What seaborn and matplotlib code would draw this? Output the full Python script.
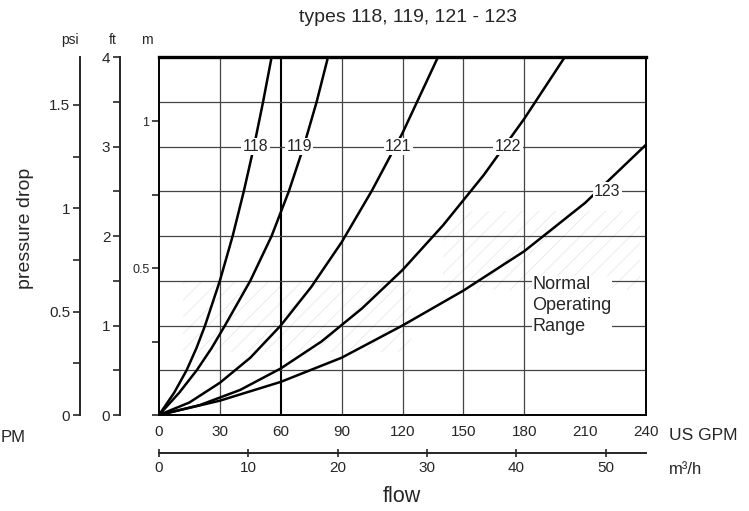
import numpy as np
import pandas as pd
import matplotlib
matplotlib.use("Agg")
import matplotlib.pyplot as plt
from matplotlib.ticker import MultipleLocator, FormatStrFormatter
import seaborn as sns

# values: flow in US GPM, pressure drop in ft of water
types = ["118", "119", "121", "122", "123"]
gpm_118 = [0, 7.5, 13.6, 18.5, 22.7, 30, 36.3, 41.8, 46.8, 51.3, 55.5]
ft_118 = [0, 0.25, 0.5, 0.75, 1.0, 1.5, 2.0, 2.5, 3.0, 3.5, 4.0]
gpm_119 = [0, 10, 18.6, 26, 32.5, 45, 55.5, 64, 71.3, 77.7, 83.3]
ft_119 = [0, 0.25, 0.5, 0.75, 1.0, 1.5, 2.0, 2.5, 3.0, 3.5, 4.0]
gpm_121 = [0, 15, 30, 45, 60, 75, 90, 105, 120, 137.5]
ft_121 = [0, 0.14, 0.36, 0.64, 1.0, 1.43, 1.93, 2.51, 3.15, 4.0]
gpm_122 = [0, 20, 40, 60, 80, 100, 120, 140, 160, 180, 200]
ft_122 = [0, 0.11, 0.28, 0.52, 0.82, 1.19, 1.62, 2.12, 2.68, 3.31, 4.0]
gpm_123 = [0, 30, 60, 90, 120, 150, 180, 210, 240]
ft_123 = [0, 0.16, 0.37, 0.64, 1.0, 1.39, 1.83, 2.37, 3.02]

# where the type numbers sit on the curves
label_gpm = [47.5, 69, 118, 172, 221]
label_ft = [3.0, 3.0, 3.0, 3.0, 2.5]

gpm_ticks = [0, 30, 60, 90, 120, 150, 180, 210, 240]
m3h_ticks = [0, 10, 20, 30, 40, 50]
ft_ticks = [0, 1, 2, 3, 4]
psi_ticks = [0, 0.5, 1, 1.5]
m_ticks = [0.5, 1]

FT_PER_PSI = 2.31
FT_PER_M = 3.281
GPM_PER_M3H = 4.403

sns.set_style("white")
plt.rcParams["font.family"] = ["Liberation Sans", "DejaVu Sans"]
plt.rcParams["hatch.linewidth"] = 0.7

curves = pd.concat([
    pd.DataFrame({"gpm": g, "ft": f, "type": t})
    for g, f, t in zip([gpm_118, gpm_119, gpm_121, gpm_122, gpm_123],
                       [ft_118, ft_119, ft_121, ft_122, ft_123], types)
])

W, H = 749, 511
fig = plt.figure(figsize=(W / 100, H / 100), dpi=100)
ax = fig.add_axes([159 / W, 96 / H, 487 / W, 358 / H])

# faint dotted shading of the normal operating range (barely visible in the scan)
shade = dict(color="none", hatch="//", edgecolor="#ececec", linewidth=0, zorder=0)
ax.fill_between([140, 237], 1.4, 2.28, **shade)
ax.fill_between([12, 124], 0.7, 1.5, **shade)

sns.lineplot(data=curves, x="gpm", y="ft", hue="type", palette=["black"] * 5,
             legend=False, sort=False, linewidth=1.8, ax=ax, zorder=3)

ax.set_xlim(0, 240)
ax.set_ylim(0, 4)
ax.set_xlabel("")
ax.set_ylabel("")
ax.set_xticks(gpm_ticks)
ax.xaxis.set_major_formatter(FormatStrFormatter("%g"))
ax.tick_params(axis="x", direction="inout", length=7, width=1, labelsize=11, pad=4)
ax.set_yticks(np.arange(0, 4.01, 0.5))
ax.tick_params(axis="y", length=0, labelleft=False)
ax.grid(True, color="#454545", linewidth=0.9)
for i, line in enumerate(ax.get_xgridlines()):
    if gpm_ticks[i] in (0, 210, 240):
        line.set_visible(False)
    if gpm_ticks[i] == 60:
        line.set_linewidth(1.5)
        line.set_color("black")

for side in ["left", "right", "bottom"]:
    ax.spines[side].set_linewidth(1.4)
    ax.spines[side].set_color("black")
ax.spines["top"].set_linewidth(2.4)
ax.spines["top"].set_color("black")

# metre scale on the frame itself
sec_m = ax.secondary_yaxis(0, functions=(lambda v: v / FT_PER_M, lambda v: v * FT_PER_M))
sec_m.set_yticks(m_ticks)
sec_m.yaxis.set_minor_locator(MultipleLocator(0.25))
sec_m.yaxis.set_major_formatter(FormatStrFormatter("%g"))
sec_m.tick_params(which="major", length=5, width=1.2, labelsize=9, pad=2)
sec_m.tick_params(which="minor", length=5, width=1.2)
sec_m.spines["left"].set_visible(False)

# feet scale
sec_ft = ax.secondary_yaxis(-39 / 487, functions=(lambda v: v, lambda v: v))
sec_ft.set_yticks(ft_ticks)
sec_ft.yaxis.set_minor_locator(MultipleLocator(0.5))
sec_ft.tick_params(which="major", length=5, width=1.2, labelsize=11, pad=2)
sec_ft.tick_params(which="minor", length=5, width=1.2)
sec_ft.spines["left"].set_linewidth(1.4)

# psi scale
sec_psi = ax.secondary_yaxis(-79 / 487, functions=(lambda v: v / FT_PER_PSI, lambda v: v * FT_PER_PSI))
sec_psi.set_yticks(psi_ticks)
sec_psi.yaxis.set_minor_locator(MultipleLocator(0.25))
sec_psi.yaxis.set_major_formatter(FormatStrFormatter("%g"))
sec_psi.tick_params(which="major", length=5, width=1.2, labelsize=11, pad=2)
sec_psi.tick_params(which="minor", length=5, width=1.2)
sec_psi.spines["left"].set_linewidth(1.4)

# m3/h scale under the GPM scale
sec_q = ax.secondary_xaxis(-38 / 358, functions=(lambda v: v / GPM_PER_M3H, lambda v: v * GPM_PER_M3H))
sec_q.set_xticks(m3h_ticks)
sec_q.tick_params(direction="inout", length=6, width=1.2, labelsize=11, pad=3)
sec_q.spines["bottom"].set_linewidth(1.4)

# type numbers on the curves
for t, x, y in zip(types, label_gpm, label_ft):
    ax.text(x, y, t, ha="center", va="center", fontsize=11.5, zorder=5,
            bbox=dict(fc="white", ec="none", pad=1.0))

ax.text(184, 1.22, "Normal\nOperating\nRange", ha="left", va="center",
        fontsize=13, linespacing=1.3, zorder=5,
        bbox=dict(fc="white", ec="none", pad=0.5))

fig.text(408 / W, 1 - 17 / H, "types 118, 119, 121 - 123", ha="center", va="center", fontsize=14)
fig.text(26 / W, 1 - 228 / H, "pressure drop", rotation=90, ha="center", va="center", fontsize=14)
fig.text(402 / W, 1 - 496 / H, "flow", ha="center", va="center", fontsize=15.5)
fig.text(669 / W, 1 - 435 / H, "US GPM", ha="left", va="center", fontsize=12.5)
fig.text(669 / W, 1 - 470 / H, "m³/h", ha="left", va="center", fontsize=12)
fig.text(1 / W, 1 - 438 / H, "PM", ha="left", va="center", fontsize=12)
fig.text(70 / W, 1 - 40 / H, "psi", ha="center", va="center", fontsize=10)
fig.text(113 / W, 1 - 40 / H, "ft", ha="center", va="center", fontsize=10)
fig.text(147 / W, 1 - 40 / H, "m", ha="center", va="center", fontsize=10)

fig.savefig("out.png", dpi=100)
